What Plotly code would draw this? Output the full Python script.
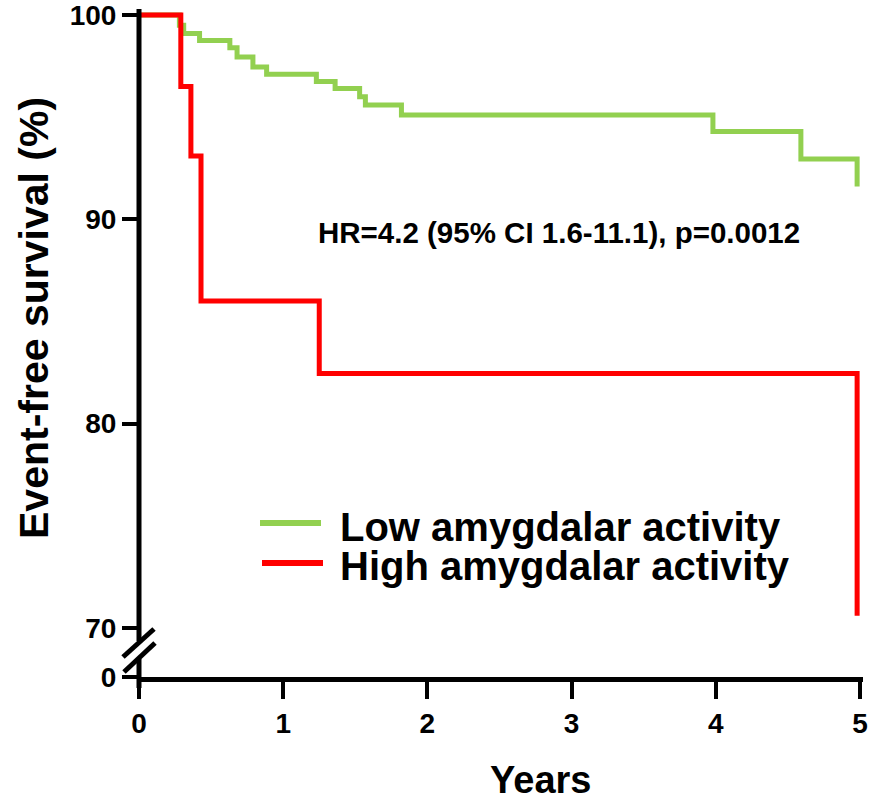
import plotly.graph_objects as go

# Kaplan-Meier step data (years, event-free survival %)
low_t = [0, 0.28, 0.31, 0.42, 0.63, 0.68, 0.79, 0.885, 1.23, 1.36, 1.53, 1.57, 1.82, 3.98, 4.59, 4.98, 4.98]
low_s = [100, 99.5, 99.1, 98.75, 98.4, 97.95, 97.45, 97.1, 96.75, 96.4, 96.0, 95.6, 95.1, 94.3, 92.95, 92.95, 91.6]

high_t = [0, 0.29, 0.36, 0.43, 1.25, 4.98, 4.98]
high_s = [100, 96.5, 93.1, 86.0, 82.45, 82.45, 70.6]

x_ticks = [0, 1, 2, 3, 4, 5]
# the axis is broken below 70; "0" sits just under the break
y_zero_pos = 67.6
y_ticks = [y_zero_pos, 70, 80, 90, 100]
y_labels = ["0", "70", "80", "90", "100"]

series_names = ["Low amygdalar activity", "High amygdalar activity"]
hr_text = "HR=4.2 (95% CI 1.6-11.1), p=0.0012"

GREEN = "#92D050"
RED = "#FF0000"
FONT = "Liberation Sans"

W, H = 872, 800
L, R, T, B = 139, 9, 5, 123
plot_w = W - L - R
plot_h = H - T - B
px_per_year = 144.2
px_per_pct = 20.43
x_range = [0, plot_w / px_per_year]
y_top = 100 + 10 / px_per_pct
y_range = [y_top - plot_h / px_per_pct, y_top]


def px(xpix):
    return (xpix - L) / plot_w


def py(ypix):
    return (H - B - ypix) / plot_h


fig = go.Figure()
fig.add_trace(go.Scatter(x=low_t, y=low_s, mode="lines", line=dict(color=GREEN, width=5, shape="hv"),
                         name=series_names[0], showlegend=False))
fig.add_trace(go.Scatter(x=high_t, y=high_s, mode="lines", line=dict(color=RED, width=5, shape="hv"),
                         name=series_names[1], showlegend=False))

shapes = []
# y axis line with a gap at the break
shapes.append(dict(type="line", xref="x domain", yref="y domain", x0=0, x1=0,
                   y0=py(9), y1=py(641), line=dict(color="black", width=5)))
shapes.append(dict(type="line", xref="x domain", yref="y domain", x0=0, x1=0,
                   y0=py(659), y1=py(688), line=dict(color="black", width=5)))
# break slashes
for (xa, ya, xb, yb) in [(123, 657, 154, 629), (124, 672, 155, 643)]:
    shapes.append(dict(type="line", xref="x domain", yref="y domain",
                       x0=px(xa), y0=py(ya), x1=px(xb), y1=py(yb),
                       line=dict(color="black", width=5)))
# legend samples
shapes.append(dict(type="line", xref="x domain", yref="y domain", x0=px(260), x1=px(321),
                   y0=py(523), y1=py(523), line=dict(color=GREEN, width=6)))
shapes.append(dict(type="line", xref="x domain", yref="y domain", x0=px(262), x1=px(323),
                   y0=py(563), y1=py(563), line=dict(color=RED, width=6)))

bold = dict(family=FONT, color="black", weight="bold")
annotations = [
    dict(text=series_names[0], xref="x domain", yref="y domain", x=px(338), y=py(527),
         xanchor="left", yanchor="middle", showarrow=False, font=dict(bold, size=40)),
    dict(text=series_names[1], xref="x domain", yref="y domain", x=px(338), y=py(566),
         xanchor="left", yanchor="middle", showarrow=False, font=dict(bold, size=40)),
    dict(text=hr_text, xref="x domain", yref="y domain", x=px(559), y=py(232),
         xanchor="center", yanchor="middle", showarrow=False, font=dict(bold, size=29.5)),
    dict(text="Event-free survival (%)", xref="x domain", yref="y domain", x=px(34), y=py(318),
         xanchor="center", yanchor="middle", showarrow=False, textangle=-90,
         font=dict(bold, size=41)),
    dict(text="Years", xref="x domain", yref="y domain", x=px(540), y=py(780),
         xanchor="center", yanchor="middle", showarrow=False, font=dict(bold, size=38)),
]

fig.update_layout(
    width=W, height=H, autosize=False,
    margin=dict(l=L, r=R, t=T, b=B, pad=0, autoexpand=False),
    plot_bgcolor="white", paper_bgcolor="white",
    shapes=shapes, annotations=annotations, showlegend=False,
)
fig.update_xaxes(range=x_range, showline=True, linewidth=5, linecolor="black",
                 ticks="outside", ticklen=17, tickwidth=4, tickcolor="black",
                 tickvals=x_ticks, ticktext=[str(v) for v in x_ticks],
                 tickfont=dict(bold, size=28), ticklabeloverflow="allow", automargin=False,
                 showgrid=False, zeroline=False, fixedrange=True)
fig.update_yaxes(range=y_range, showline=False,
                 ticks="outside", ticklen=16, tickwidth=4, tickcolor="black",
                 tickvals=y_ticks, ticktext=y_labels,
                 tickfont=dict(bold, size=28), ticklabeloverflow="allow", automargin=False,
                 showgrid=False, zeroline=False, fixedrange=True)

fig.write_html("out.html", config={"displayModeBar": False})
